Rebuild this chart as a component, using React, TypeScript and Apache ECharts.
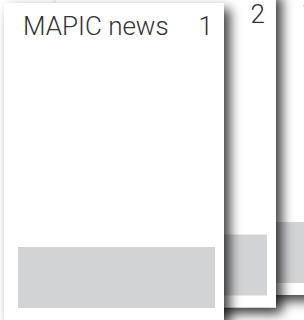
import React, { useEffect, useRef } from "react";
import * as echarts from "echarts";

const cardTitles = ["MAPIC news", "", ""];
const cardNumbers = ["1", "2", "3"];

export default function App() {
  const ref = useRef<HTMLDivElement>(null);
  useEffect(() => {
    if (!ref.current) return;
    const chart = echarts.init(ref.current, undefined, { renderer: "svg" });
    const cardW = 220;
    const cardH = 317;
    const baseX = 4;
    const baseY = 3;
    const dx = 52;
    const dy = -12.5;
    const font = "300 26px Roboto, 'Open Sans', sans-serif";
    const elements: any[] = [];
    // draw back to front
    for (let i = cardNumbers.length - 1; i >= 0; i--) {
      const x = baseX + dx * i;
      const y = baseY + dy * i;
      const children: any[] = [
        {
          type: "rect",
          shape: { x: 0, y: 0, width: cardW, height: cardH },
          style: {
            fill: "#ffffff",
            shadowBlur: 12,
            shadowOffsetX: 6,
            shadowOffsetY: 6,
            shadowColor: "rgba(0,0,0,0.75)",
          },
        },
        {
          type: "rect",
          shape: { x: 14, y: 244, width: cardW - 23, height: 61 },
          style: { fill: "#d2d3d5" },
        },
        {
          type: "text",
          x: cardW - 11,
          y: 36,
          style: {
            text: cardNumbers[i],
            fill: "#333333",
            font,
            align: "right",
            verticalAlign: "bottom",
          },
        },
      ];
      if (cardTitles[i]) {
        children.push({
          type: "text",
          x: 19,
          y: 36,
          style: {
            text: cardTitles[i],
            fill: "#333333",
            font,
            verticalAlign: "bottom",
          },
        });
      }
      elements.push({ type: "group", x, y, z: 10 - i, children });
    }
    chart.setOption({
      animation: false,
      backgroundColor: "#ffffff",
      graphic: { elements },
    });
    return () => chart.dispose();
  }, []);
  return (
    <div
      ref={ref}
      style={{ position: "fixed", left: 0, top: 0, width: 304, height: 320 }}
    />
  );
}
